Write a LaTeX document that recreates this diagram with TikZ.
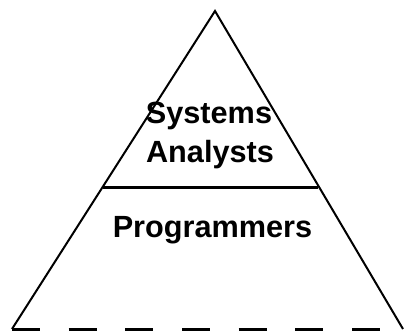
\documentclass[tikz,border=0pt]{standalone}
\usepackage{fontspec}
\setmainfont{Liberation Sans}
\usepackage{tikz}
\usetikzlibrary{positioning}
\tikzset{every picture/.style={line width=1.5pt}}

\begin{document}
\begin{tikzpicture}[x=0.75pt,y=0.75pt,yscale=-1,xscale=1,
  label text/.style={inner sep=0.75pt, anchor=base, font=\fontsize{23}{29}\selectfont\bfseries}]
\useasboundingbox (0,0) rectangle (406,332);

% corners of the pyramid
\coordinate (apex) at (215,11);
\coordinate (baseL) at (12,329);
\coordinate (baseR) at (403,329);
% ends of the dividing line
\coordinate (divL) at (102.5,187);
\coordinate (divR) at (318,187);

%Sides
\draw [line join=miter] (baseL) -- (apex) -- (baseR) ;
%Base (dashed)
\draw [line width=2.25pt, dash pattern=on 21pt off 21.5pt] (baseL) -- (baseR) ;
%Divider
\draw [line width=2.25pt] (divL) -- (divR) ;

% Text Node
\node [label text] (systems) at (209,123) {Systems};
% Text Node
\node [label text] (analysts) at (210,162) {Analysts};
% Text Node
\node [label text] (programmers) at (212.5,237) {Programmers};

\end{tikzpicture}
\end{document}
